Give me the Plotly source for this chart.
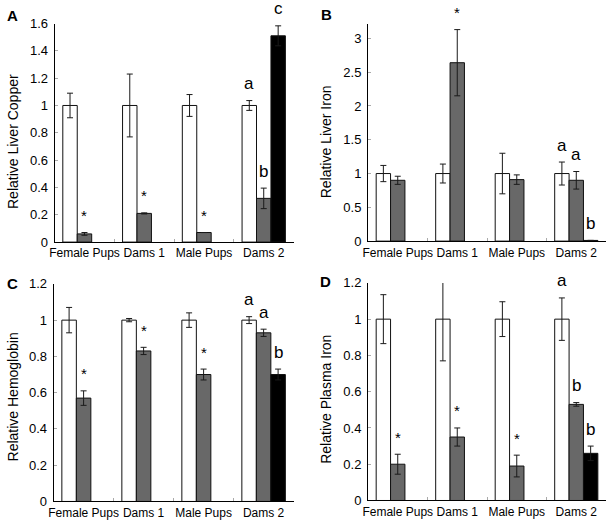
import plotly.graph_objects as go

W, H = 609, 525

categories = ["Female Pups", "Dams 1", "Male Pups", "Dams 2"]

# Panel A: Relative Liver Copper
a_ctrl = [1, 1, 1, 1]
a_ctrl_err = [0.09, 0.23, 0.08, 0.036]
a_trt = [0.06, 0.21, 0.07, 0.32]
a_trt_err = [0.01, 0.004, 0.0, 0.075]
a_third = [None, None, None, 1.51]
a_third_err = [None, None, None, 0.073]

# Panel B: Relative Liver Iron
b_ctrl = [1, 1, 1, 1]
b_ctrl_err = [0.12, 0.14, 0.30, 0.17]
b_trt = [0.90, 2.64, 0.91, 0.90]
b_trt_err = [0.06, 0.49, 0.07, 0.13]
b_third = [None, None, None, 0.01]
b_third_err = [None, None, None, 0.0]

# Panel C: Relative Hemoglobin
c_ctrl = [1, 1, 1, 1]
c_ctrl_err = [0.07, 0.009, 0.04, 0.019]
c_trt = [0.57, 0.83, 0.70, 0.93]
c_trt_err = [0.04, 0.02, 0.03, 0.02]
c_third = [None, None, None, 0.70]
c_third_err = [None, None, None, 0.03]

# Panel D: Relative Plasma Iron
d_ctrl = [1, 1, 1, 1]
d_ctrl_err = [0.135, 0.23, 0.096, 0.117]
d_trt = [0.20, 0.35, 0.19, 0.53]
d_trt_err = [0.055, 0.05, 0.06, 0.01]
d_third = [None, None, None, 0.26]
d_third_err = [None, None, None, 0.04]

# Significance marks: (category index, bar slot, text)
a_marks = [(0, 1, "*"), (1, 1, "*"), (2, 1, "*"), (3, 0, "a"), (3, 1, "b"), (3, 2, "c")]
b_marks = [(1, 1, "*"), (3, 0, "a"), (3, 1, "a"), (3, 2, "b")]
c_marks = [(0, 1, "*"), (1, 1, "*"), (2, 1, "*"), (3, 0, "a"), (3, 1, "a"), (3, 2, "b")]
d_marks = [(0, 1, "*"), (1, 1, "*"), (2, 1, "*"), (3, 0, "a"), (3, 1, "b"), (3, 2, "b")]

panels = [
    dict(letter="A", title="Relative Liver Copper", series=[(a_ctrl, a_ctrl_err), (a_trt, a_trt_err), (a_third, a_third_err)],
         marks=a_marks, yrange=[0, 1.6], dtick=0.2,
         xpx=(50, 291), ypx=(17, 242), title_pos=(8, 138), letter_pos=(8, 9)),
    dict(letter="B", title="Relative Liver Iron", series=[(b_ctrl, b_ctrl_err), (b_trt, b_trt_err), (b_third, b_third_err)],
         marks=b_marks, yrange=[0, 3.22], dtick=0.5,
         xpx=(366, 606), ypx=(17, 241), title_pos=(324, 139), letter_pos=(324, 8)),
    dict(letter="C", title="Relative Hemoglobin", series=[(c_ctrl, c_ctrl_err), (c_trt, c_trt_err), (c_third, c_third_err)],
         marks=c_marks, yrange=[0, 1.2], dtick=0.2,
         xpx=(49, 291), ypx=(285, 509), title_pos=(8, 401), letter_pos=(8, 285)),
    dict(letter="D", title="Relative Plasma Iron", series=[(d_ctrl, d_ctrl_err), (d_trt, d_trt_err), (d_third, d_third_err)],
         marks=d_marks, yrange=[0, 1.2], dtick=0.2,
         xpx=(366, 606), ypx=(284, 508), title_pos=(324, 404), letter_pos=(323, 283)),
]

fills = ["#ffffff", "#686868", "#000000"]
names = ["Control", "Deficient", "Deficient 2"]
BARGAP = 0.275
FONT = "Liberation Sans, Arial, sans-serif"

fig = go.Figure()
annotations = []
layout = {}

for i, p in enumerate(panels):
    n = "" if i == 0 else str(i + 1)
    xa, ya = "x" + n, "y" + n
    for k, (vals, errs) in enumerate(p["series"]):
        fig.add_trace(go.Bar(
            x=categories, y=vals, xaxis=xa, yaxis=ya, name=names[k], showlegend=False,
            marker=dict(color=fills[k], line=dict(color="#111111", width=1)),
            error_y=dict(type="data", array=[e if e is not None else 0 for e in errs],
                         visible=True, color="#1a1a1a", thickness=1, width=3),
        ))
    x0, x1 = p["xpx"]
    ytop, ybot = p["ypx"]
    layout["xaxis" + n] = dict(
        domain=[x0 / W, x1 / W], anchor=ya, type="category", tickson="boundaries",
        ticks="inside", ticklen=3, tickcolor="#aaaaaa", showline=True, linecolor="#000000",
        linewidth=1, showgrid=False, tickangle=0,
        tickfont=dict(size=12, color="#000000", family=FONT),
        range=[-0.5, 3.5], fixedrange=True,
    )
    layout["yaxis" + n] = dict(
        domain=[1 - ybot / H, 1 - ytop / H], anchor=xa, range=p["yrange"], dtick=p["dtick"],
        tick0=0, ticks="inside", ticklen=3, tickcolor="#aaaaaa", showline=True,
        linecolor="#000000", linewidth=1, showgrid=False, zeroline=False,
        tickfont=dict(size=13, color="#000000", family=FONT), ticklabelstandoff=3,
    )
    # axis title
    tx, ty = p["title_pos"]
    annotations.append(dict(text=p["title"], x=tx / W, y=1 - ty / H, xref="paper", yref="paper",
                            textangle=-90, showarrow=False, xanchor="center", yanchor="middle",
                            font=dict(size=14, family=FONT, color="#000000")))
    lx, ly = p["letter_pos"]
    annotations.append(dict(text="<b>" + p["letter"] + "</b>", x=lx / W, y=1 - ly / H, xref="paper",
                            yref="paper", showarrow=False, xanchor="center", yanchor="middle",
                            font=dict(size=15, family=FONT, color="#000000")))
    cat_px = (x1 - x0) / len(categories)
    slot_px = cat_px * (1 - BARGAP) / 3
    for ci, slot, txt in p["marks"]:
        vals, errs = p["series"][slot]
        top = vals[ci] + (errs[ci] or 0)
        star = txt == "*"
        annotations.append(dict(
            text=txt, x=categories[ci], y=top, xref=xa, yref=ya, showarrow=False,
            xanchor="center", yanchor="middle", xshift=(slot - 1) * slot_px,
            yshift=17 if star else 17,
            font=dict(size=15 if star else 17, family=FONT, color="#000000"),
        ))

fig.update_layout(
    width=W, height=H, margin=dict(l=0, r=0, t=0, b=0), autosize=False,
    paper_bgcolor="#ffffff", plot_bgcolor="#ffffff",
    barmode="group", bargap=BARGAP, bargroupgap=0,
    annotations=annotations, font=dict(family=FONT, color="#000000"),
    **layout,
)

fig.write_html(
    "out.html",
    config={"displayModeBar": False, "responsive": False},
    post_script="document.body.style.margin='0';document.body.style.overflow='hidden';",
)
